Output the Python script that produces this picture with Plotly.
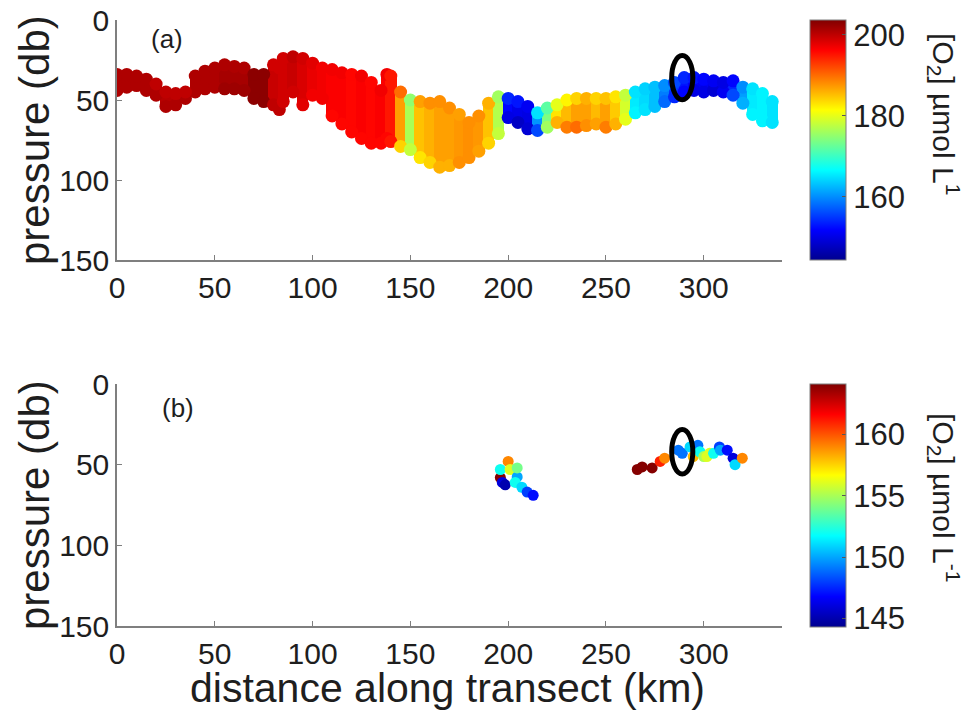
import plotly.graph_objects as go

# ---------------- data ----------------
# Panel (a): tow-yo profiles: distance (km), shallowest / deepest sample pressure (db), O2 (umol/L)
dist_a = [0, 5, 10, 15, 20, 25, 30, 35, 40, 45, 50, 55, 60, 65, 70, 75, 80, 83, 85, 90, 95,
          100, 105, 110, 115, 120, 125, 130, 135, 138, 140, 145, 150, 155, 160, 165, 170, 175,
          180, 185, 190, 195, 200, 205, 210, 215, 220, 225, 230, 235, 240, 245, 250, 255, 260,
          265, 270, 275, 280, 285, 290, 295, 300, 305, 310, 315, 320, 325, 330, 335]
ptop_a = [34, 34, 35, 37, 40, 45, 46, 45, 35, 32, 30, 28, 29, 30, 34, 34, 28, 30, 24, 23, 24,
          27, 30, 31, 33, 34, 35, 39, 44, 34, 35, 45, 50, 51, 52, 51, 55, 59,
          64, 60, 52, 48, 49, 51, 54, 58, 55, 53, 50, 49, 49, 49, 49, 48, 47,
          45, 43, 42, 41, 39, 36, 36, 37, 38, 39, 38, 42, 43, 46, 51]
pbot_a = [44, 42, 41, 44, 47, 54, 53, 49, 45, 43, 42, 43, 43, 44, 49, 51, 53, 56, 51, 45, 53,
          47, 49, 60, 65, 70, 74, 77, 77, 74, 76, 79, 81, 86, 89, 92, 91, 89,
          86, 82, 77, 71, 61, 64, 68, 69, 67, 64, 67, 67, 66, 65, 67, 65, 62,
          58, 56, 54, 51, 48, 45, 44, 45, 44, 45, 47, 52, 59, 63, 64]
# O2 at the shallow end of each profile and at the deep end
o2_top_a = [201, 201, 201, 201, 200, 200, 200, 200, 201, 201, 201, 201, 201, 201, 203, 203, 199, 199, 199, 200, 199,
            198, 197, 197, 197, 196, 197, 196, 197, 197, 195, 190, 175, 187, 188, 188, 188, 187,
            188, 188, 186, 176, 154, 153, 151, 165, 172, 180, 182, 184, 186, 184, 185, 183, 178,
            165, 164, 163, 160, 156, 154, 153, 152, 151, 150, 152, 160, 165, 166, 165]
o2_bot_a = [201, 201, 201, 201, 201, 201, 201, 201, 201, 201, 201, 202, 202, 202, 203, 203, 200, 200, 199, 199, 198,
            197, 197, 196, 196, 196, 196, 196, 196, 196, 195, 184, 178, 183, 184, 186, 186, 188,
            188, 187, 184, 178, 150, 148, 149, 156, 176, 186, 189, 190, 188, 187, 189, 186, 180,
            166, 165, 163, 158, 154, 152, 150, 150, 149, 151, 156, 162, 166, 166, 165]

# Panel (b): individual samples
dist_b = [196, 197, 198.5, 200, 196, 201, 204.6, 204.6, 203.6, 207, 209.7, 212.8,
          266, 268.5, 273.6, 277.7, 280, 287, 289, 293, 294.6, 297, 298, 300, 301.6,
          303, 305, 308, 308.5, 312, 315, 316, 319.7]
pres_b = [58, 61, 62.5, 48, 53, 53, 57.6, 52, 61, 64, 67, 69,
          53, 51.4, 52, 48, 46, 41, 43, 39, 45, 38, 42, 45, 45,
          43, 43, 39, 41, 41, 46, 50, 46]
o2_b = [164, 146, 145, 159, 152, 156, 150, 154, 152, 151, 148, 147,
        164, 164, 164, 161, 159, 149, 149, 151, 158, 149, 152, 155, 156,
        156, 152, 148, 150, 147, 146, 151, 159]

# highlighted feature (ellipse): centre distance, centre pressure
ell_a = (289, 36)
ell_b = (289, 42)
ell_half = (5.4, 13.8)

x_ticks = [0, 50, 100, 150, 200, 250, 300]
y_ticks = [0, 50, 100, 150]
cb_ticks_a = [160, 180, 200]
cb_ticks_b = [145, 150, 155, 160]
crange_a = (144.4, 203.7)
crange_b = (144.3, 164.1)

# --------------- styling ----------------
W, H = 967, 713
FONT = "Liberation Sans, Arial, sans-serif"
TXT = "#1e1e1e"
AX = "#7f7f7f"
jet = [[0.0, "rgb(0,0,143)"], [0.125, "rgb(0,0,255)"], [0.375, "rgb(0,255,255)"],
       [0.625, "rgb(255,255,0)"], [0.875, "rgb(255,0,0)"], [1.0, "rgb(128,0,0)"]]

def px_x(p):
    return p / W

def px_y(p):
    return 1 - p / H

fig = go.Figure()

# panel (a): profile bodies as bars + rounded sample markers at both ends
o2_mid_a = [(a + b) / 2 for a, b in zip(o2_top_a, o2_bot_a)]
fig.add_trace(go.Bar(
    x=dist_a, base=ptop_a, y=[b - t for t, b in zip(ptop_a, pbot_a)],
    width=5.8, marker=dict(color=o2_mid_a, coloraxis="coloraxis", line=dict(width=0)),
    xaxis="x", yaxis="y", hoverinfo="skip", showlegend=False))
fig.add_trace(go.Scatter(
    x=dist_a + dist_a, y=pbot_a + ptop_a, mode="markers",
    marker=dict(size=13, color=o2_bot_a + o2_top_a, coloraxis="coloraxis", line=dict(width=0)),
    xaxis="x", yaxis="y", showlegend=False))

# panel (b)
fig.add_trace(go.Scatter(
    x=dist_b, y=pres_b, mode="markers",
    marker=dict(size=11, color=o2_b, coloraxis="coloraxis2", line=dict(width=0)),
    xaxis="x2", yaxis="y2", showlegend=False))

xd = [px_x(117), px_x(782)]
axis_common = dict(showgrid=False, zeroline=False, showline=True, linecolor=AX, linewidth=1.5,
                   ticks="inside", ticklen=5, tickcolor=AX, tickwidth=1.2, automargin=False,
                   tickfont=dict(family=FONT, size=30, color=TXT), mirror=False)

cb_common = dict(thickness=36, thicknessmode="pixels", lenmode="fraction",
                 xanchor="left", yanchor="middle", x=px_x(810), outlinecolor=AX, outlinewidth=1,
                 ticks="inside", ticklen=4, tickcolor="#555", ticklabelposition="outside",
                 tickfont=dict(family=FONT, size=31, color=TXT), xpad=0, ypad=0)

fig.update_layout(
    width=W, height=H, margin=dict(l=0, r=0, t=0, b=0, autoexpand=False),
    paper_bgcolor="white", plot_bgcolor="white", barmode="overlay", bargap=0,
    xaxis=dict(domain=xd, range=[0, 340], tickvals=x_ticks, anchor="y", **axis_common),
    yaxis=dict(domain=[px_y(260), px_y(20)], range=[150, 0], tickvals=y_ticks, anchor="x", **axis_common),
    xaxis2=dict(domain=xd, range=[0, 340], tickvals=x_ticks, anchor="y2", **axis_common),
    yaxis2=dict(domain=[px_y(626), px_y(384)], range=[150, 0], tickvals=y_ticks, anchor="x2", **axis_common),
    coloraxis=dict(colorscale=jet, cmin=crange_a[0], cmax=crange_a[1],
                   colorbar=dict(len=240 / H, y=px_y(140), tickvals=cb_ticks_a, **cb_common)),
    coloraxis2=dict(colorscale=jet, cmin=crange_b[0], cmax=crange_b[1],
                    colorbar=dict(len=243 / H, y=px_y(505.5), tickvals=cb_ticks_b, **cb_common)),
)

# ellipses
for (cx, cy), xr, yr in [(ell_a, "x", "y"), (ell_b, "x2", "y2")]:
    fig.add_shape(type="circle", xref=xr, yref=yr,
                  x0=cx - ell_half[0], x1=cx + ell_half[0], y0=cy - ell_half[1], y1=cy + ell_half[1],
                  line=dict(color="black", width=5))

def ann(text, x, y, size, angle=0):
    fig.add_annotation(text=text, x=px_x(x), y=px_y(y), xref="paper", yref="paper",
                       showarrow=False, textangle=angle, xanchor="center", yanchor="middle",
                       font=dict(family=FONT, size=size, color=TXT))

ann("(a)", 167, 39, 26)
ann("(b)", 178, 408, 26)
ann("pressure (db)", 34, 140, 42, -90)
ann("pressure (db)", 34, 505, 42, -90)
ann("distance along transect (km)", 447, 688, 41)
ann("[O<sub>2</sub>] µmol L<sup>1</sup>", 944, 114, 30, 90)
ann("[O<sub>2</sub>] µmol L<sup>-1</sup>", 944, 497, 30, 90)

fig.write_html("out.html")
